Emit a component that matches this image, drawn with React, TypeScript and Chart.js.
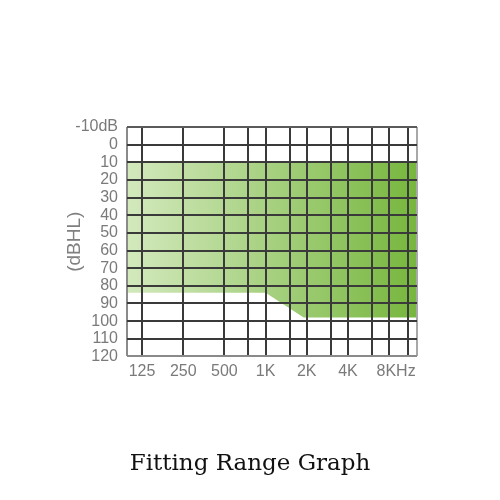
import React, { useEffect, useRef } from "react";
import { Chart, registerables } from "chart.js";

Chart.register(...registerables);

// Frequency axis (Hz)
const axisMinHz = 97;
const axisMaxHz = 12800;
const gridFreqs = [125, 250, 500, 750, 1000, 1500, 2000, 3000, 4000, 6000, 8000, 11000];
const labelFreqs = [125, 250, 500, 1000, 2000, 4000, 9000];
const labelTexts = ["125", "250", "500", "1K", "2K", "4K", "8KHz"];

// Hearing level axis (dBHL)
const dbMin = -10;
const dbMax = 120;

// Fitting range boundaries
const rangeFreqs = [97, 1000, 1900, 12800];
const rangeUpper = [10, 10, 10, 10];
const rangeLower = [84, 84, 98, 98];

const title = "Fitting Range Graph";
const yTitle = "(dBHL)";

export default function App() {
  const ref = useRef<HTMLCanvasElement | null>(null);

  useEffect(() => {
    if (!ref.current) return;
    const labelMap: Record<number, string> = {};
    labelFreqs.forEach((f, i) => (labelMap[f] = labelTexts[i]));
    const allTicks = Array.from(new Set([axisMinHz, ...gridFreqs, ...labelFreqs, axisMaxHz])).sort((a, b) => a - b);

    const yTitlePlugin = {
      id: "yTitle",
      afterDraw(chart: any) {
        const a = chart.chartArea;
        const c = chart.ctx;
        c.save();
        c.translate(a.left - 52, (a.top + a.bottom) / 2);
        c.rotate(-Math.PI / 2);
        c.font = "19px 'Liberation Sans', Arial, sans-serif";
        c.fillStyle = "#808080";
        c.textAlign = "center";
        c.textBaseline = "middle";
        c.fillText(yTitle, 0, 0);
        c.restore();
      },
    };

    const chart = new Chart(ref.current, {
      type: "line",
      data: {
        datasets: [
          {
            data: rangeFreqs.map((f, i) => ({ x: f, y: rangeUpper[i] })),
            fill: "+1",
            borderWidth: 0,
            pointRadius: 0,
            yAxisID: "y",
            backgroundColor: (ctx: any) => {
              const a = ctx.chart.chartArea;
              if (!a) return "rgba(0,0,0,0)";
              const g = ctx.chart.ctx.createLinearGradient(a.left, 0, a.right, 0);
              g.addColorStop(0, "#d3e9bd");
              g.addColorStop(0.5, "#a6d07f");
              g.addColorStop(1, "#76b63d");
              return g;
            },
          },
          {
            data: rangeFreqs.map((f, i) => ({ x: f, y: rangeLower[i] })),
            fill: false,
            borderWidth: 0,
            pointRadius: 0,
            yAxisID: "y",
          },
        ],
      },
      options: {
        animation: false,
        responsive: false,
        layout: { padding: { top: 127, right: 0, bottom: 0, left: 0 } },
        plugins: {
          legend: { display: false },
          tooltip: { enabled: false },
          title: {
            display: true,
            position: "bottom",
            text: title,
            color: "#111",
            font: { family: "'DejaVu Serif', serif", size: 23, weight: "normal" },
            padding: { top: 64, bottom: 22 },
          },
        },
        scales: {
          x: {
            type: "logarithmic",
            min: axisMinHz,
            max: axisMaxHz,
            afterFit: (s: any) => {
              s.height = 30;
            },
            afterBuildTicks: (s: any) => {
              s.ticks = allTicks.map((v) => ({ value: v }));
            },
            border: { display: false },
            grid: {
              z: 1,
              drawTicks: false,
              lineWidth: 2,
              color: (ctx: any) => {
                const v = ctx.tick?.value;
                if (v === axisMinHz) return "#8a8a8a";
                if (v === axisMaxHz) return "#a8a8a8";
                if (gridFreqs.includes(v)) return "#3a3a3a";
                return "rgba(0,0,0,0)";
              },
            },
            ticks: {
              autoSkip: false,
              maxRotation: 0,
              padding: 6,
              color: "#7a7a7a",
              font: { family: "'Liberation Sans', Arial, sans-serif", size: 16 },
              callback: (v: any) => labelMap[Number(v)] ?? "",
            },
          },
          y: {
            type: "linear",
            reverse: true,
            min: dbMin,
            max: dbMax,
            afterFit: (s: any) => {
              s.width = 127;
            },
            border: { display: false },
            grid: {
              z: 1,
              drawTicks: false,
              lineWidth: 2,
              color: (ctx: any) => {
                const v = ctx.tick?.value;
                if (v === dbMax) return "#8a8a8a";
                if (v === dbMin) return "#5a5a5a";
                return "#3a3a3a";
              },
            },
            ticks: {
              stepSize: 10,
              autoSkip: false,
              padding: 9,
              color: "#7a7a7a",
              font: { family: "'Liberation Sans', Arial, sans-serif", size: 16 },
              callback: (v: any) => (Number(v) === dbMin ? `${v}dB` : `${v}`),
            },
          },
          spacer: {
            type: "linear",
            position: "right",
            display: true,
            afterFit: (s: any) => {
              s.width = 83;
            },
            border: { display: false },
            grid: { display: false },
            ticks: { display: false },
          },
        },
      },
      plugins: [yTitlePlugin],
    } as any);

    return () => chart.destroy();
  }, []);

  return (
    <div style={{ position: "absolute", left: 0, top: 0, width: 500, height: 500, background: "#fff" }}>
      <canvas ref={ref} width={500} height={500} style={{ display: "block" }} />
    </div>
  );
}
